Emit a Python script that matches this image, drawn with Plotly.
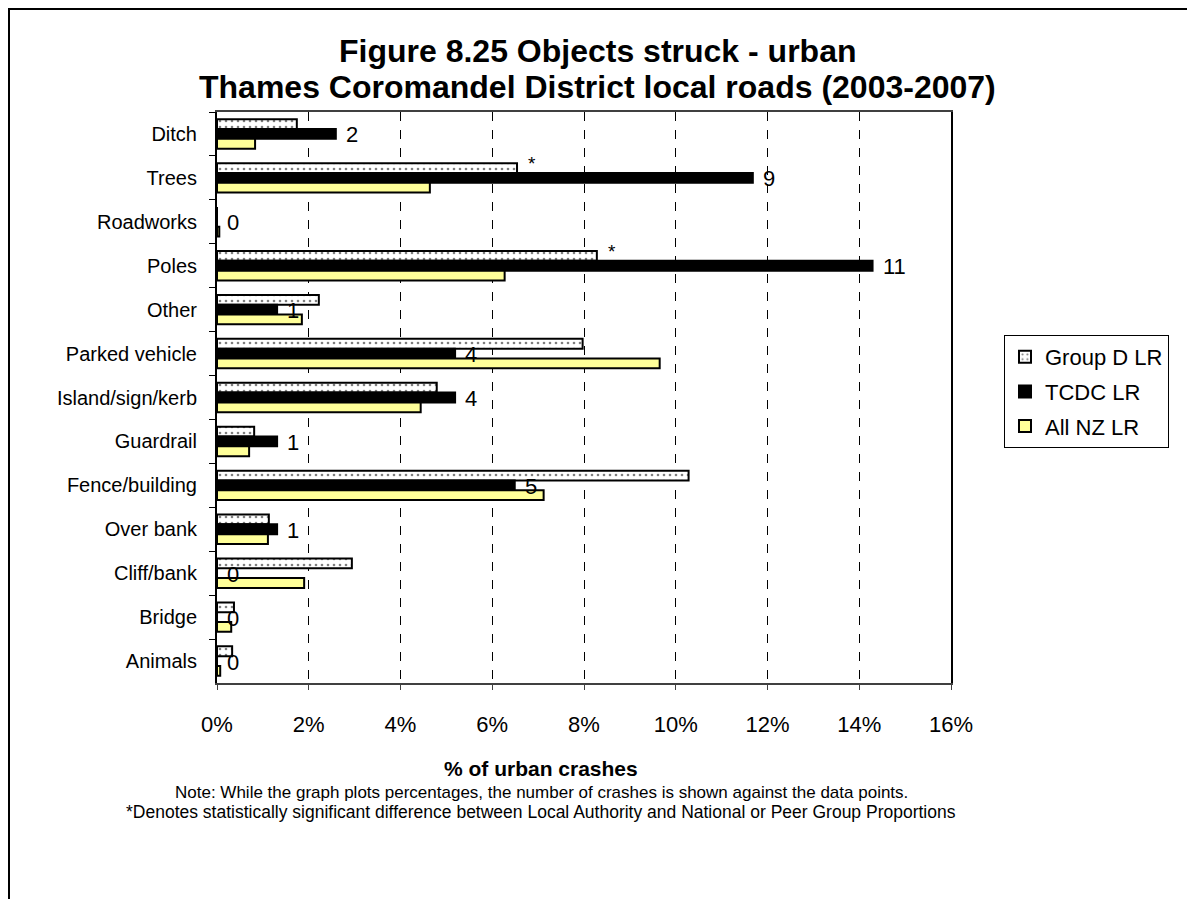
import plotly.graph_objects as go

categories = ["Ditch", "Trees", "Roadworks", "Poles", "Other", "Parked vehicle",
              "Island/sign/kerb", "Guardrail", "Fence/building", "Over bank",
              "Cliff/bank", "Bridge", "Animals"]
group_d = [1.74, 6.54, 0.0, 8.28, 2.22, 7.97, 4.79, 0.81, 10.28, 1.13, 2.94, 0.37, 0.33]
tcdc = [2.59, 11.68, 0.0, 14.29, 1.31, 5.19, 5.19, 1.31, 6.49, 1.31, 0.0, 0.0, 0.0]
all_nz = [0.83, 4.64, 0.05, 6.27, 1.85, 9.65, 4.44, 0.70, 7.12, 1.11, 1.90, 0.31, 0.07]
tcdc_counts = ["2", "9", "0", "11", "1", "4", "4", "1", "5", "1", "0", "0", "0"]
significant = [False, True, False, True, False, False, False, False, False, False, False, False, False]
x_ticks = [0, 2, 4, 6, 8, 10, 12, 14, 16]
x_tick_labels = ["0%", "2%", "4%", "6%", "8%", "10%", "12%", "14%", "16%"]

FONT = "Liberation Sans, Arial, sans-serif"

# figure geometry (the page adds an 8px body margin)
W, H = 1187, 891
L, T = 209, 104
PW, PH = 734, 571
R, B = W - L - PW, H - T - PH

fig = go.Figure()
fig.add_trace(go.Bar(
    y=categories, x=group_d, orientation="h", name="Group D LR", legendgroup="a",
    marker=dict(color="white", line=dict(color="black", width=2),
                pattern=dict(shape=".", fgcolor="black", bgcolor="white", size=6, solidity=0.15)),
))
fig.add_trace(go.Bar(
    y=categories, x=tcdc, orientation="h", name="TCDC LR", legendgroup="b",
    marker=dict(color="black", line=dict(color="black", width=2)),
))
fig.add_trace(go.Bar(
    y=categories, x=all_nz, orientation="h", name="All NZ LR", legendgroup="c",
    marker=dict(color="#FFFF99", line=dict(color="black", width=2)),
))

annotations = []
for c, v, t in zip(categories, tcdc, tcdc_counts):
    annotations.append(dict(x=v, y=c, xref="x", yref="y", text=t, showarrow=False,
                            xanchor="left", yanchor="middle", xshift=8, yshift=-1,
                            font=dict(family=FONT, size=22, color="black")))
for c, v, s in zip(categories, group_d, significant):
    if s:
        annotations.append(dict(x=v, y=c, xref="x", yref="y", text="*", showarrow=False,
                                xanchor="left", yanchor="middle", xshift=9, yshift=14,
                                font=dict(family=FONT, size=19, color="black")))

tx = (589 - L) / PW
nx = (533 - L) / PW
annotations.append(dict(x=tx, y=1, xref="paper", yref="paper",
                        text="<b>Figure 8.25 Objects struck - urban</b>",
                        showarrow=False, xanchor="center", yanchor="middle", yshift=61,
                        font=dict(family=FONT, size=32, color="black")))
annotations.append(dict(x=tx, y=1, xref="paper", yref="paper",
                        text="<b>Thames Coromandel District local roads (2003-2007)</b>",
                        showarrow=False, xanchor="center", yanchor="middle", yshift=25,
                        font=dict(family=FONT, size=32, color="black")))
annotations.append(dict(x=nx, y=0, xref="paper", yref="paper", text="<b>% of urban crashes</b>",
                        showarrow=False, xanchor="center", yanchor="middle", yshift=-85,
                        font=dict(family=FONT, size=21, color="black")))
annotations.append(dict(x=nx, y=0, xref="paper", yref="paper",
                        text="Note: While the graph plots percentages, the number of crashes is shown against the data points.",
                        showarrow=False, xanchor="center", yanchor="middle", yshift=-109,
                        font=dict(family=FONT, size=17, color="black")))
annotations.append(dict(x=nx, y=0, xref="paper", yref="paper",
                        text="*Denotes statistically significant difference between Local Authority and National or Peer Group Proportions",
                        showarrow=False, xanchor="center", yanchor="middle", yshift=-129,
                        font=dict(family=FONT, size=17.5, color="black")))

fig.update_layout(
    width=W, height=H,
    margin=dict(l=L, r=R, t=T, b=B),
    paper_bgcolor="white", plot_bgcolor="white",
    barmode="group", bargap=0.33, bargroupgap=0,
    font=dict(family=FONT, size=20, color="black"),
    legend=dict(x=(996 - L) / PW, y=(T + PH - 327) / PH, xanchor="left", yanchor="top",
                bordercolor="black", borderwidth=1, bgcolor="white",
                font=dict(family=FONT, size=22, color="black"),
                itemwidth=30, tracegroupgap=3),
    annotations=annotations,
    shapes=[dict(type="rect", xref="paper", yref="paper",
                 x0=(1 - L) / PW, x1=(1184 - L) / PW,
                 y0=-0.6, y1=(T + PH - 1) / PH,
                 line=dict(color="black", width=2), fillcolor="rgba(0,0,0,0)")],
)
fig.update_xaxes(range=[0, 16], tickvals=x_ticks, ticktext=x_tick_labels,
                 showgrid=True, gridcolor="black", griddash="dash", gridwidth=1,
                 showline=True, linecolor="#404040", linewidth=2, mirror=True,
                 ticks="outside", ticklen=5, tickcolor="#404040",
                 ticklabelstandoff=16, zeroline=False,
                 tickfont=dict(family=FONT, size=22, color="black"))
fig.update_yaxes(autorange="reversed", categoryorder="array", categoryarray=categories,
                 showline=True, linecolor="black", linewidth=2, mirror=True,
                 ticks="outside", ticklen=6, tickson="boundaries", tickcolor="black",
                 ticklabelstandoff=14, showgrid=False,
                 tickfont=dict(family=FONT, size=20, color="black"))

fig.write_html("out.html")
